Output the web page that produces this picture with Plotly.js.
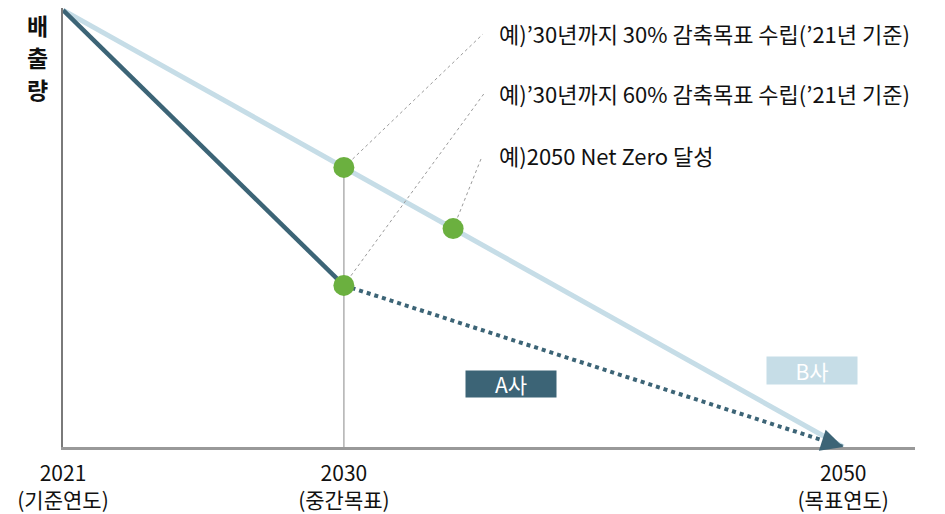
<!DOCTYPE html>
<html>
<head>
<meta charset="utf-8">
<script src="https://cdn.plot.ly/plotly-3.0.1.min.js"></script>
<style>html,body{margin:0;padding:0;background:#fff;}#chart{width:945px;height:514px;}</style>
</head>
<body>
<div id="chart"></div>
<script>
// Axis positions of the milestone years (schematic, non-linear spacing)
const yearLabels = ['2021<br>(기준연도)', '2030<br>(중간목표)', '2050<br>(목표연도)'];
const yearPos = [0, 9, 25];

// B사 (light) path: 2021 -> 2050, with an extra point read at x=12.5
const bX = [0, 9, 12.5, 25];
const bY = [100, 64, 50, 0];

// A사 (dark) path: solid 2021 -> 2030, dotted 2030 -> 2050
const aSolidX = [0, 9];
const aSolidY = [100, 37];
const aDotX = [9, 25];
const aDotY = [37, 0];

// Green milestone markers
const milestoneX = [9, 9, 12.5];
const milestoneY = [64, 37, 50];

// Callout labels (text) and their anchor positions
const calloutText = [
  '예)’30년까지 30% 감축목표 수립(’21년 기준)',
  '예)’30년까지 60% 감축목표 수립(’21년 기준)',
  '예)2050 Net Zero 달성'
];
const calloutLabelX = [13.9, 13.9, 13.9];
const calloutLabelY = [94.7, 81.0, 66.8];
const calloutLineEndX = [13.45, 13.48, 13.42];
const calloutLineEndY = [94.5, 80.8, 66.4];

const companyLabels = ['A사', 'B사'];
const yTitleChars = ['배', '출', '량'];

const DARK = '#3c6476';
const LIGHT = '#c6dde7';
const GREEN = '#6bb03f';
const FONT = '"Noto Sans CJK KR", "Noto Sans", sans-serif';

const traces = [];
// vertical reference line at 2030
traces.push({x: [yearPos[1], yearPos[1]], y: [0, bY[1]], mode: 'lines',
  line: {color: '#b0b0b0', width: 1.5}, hoverinfo: 'skip', showlegend: false});
// B line
traces.push({x: bX, y: bY, mode: 'lines', line: {color: LIGHT, width: 5},
  showlegend: false, cliponaxis: false});
// A solid
traces.push({x: aSolidX, y: aSolidY, mode: 'lines', line: {color: DARK, width: 4.5},
  showlegend: false, cliponaxis: false});
// A dotted
traces.push({x: aDotX, y: aDotY, mode: 'lines', line: {color: DARK, width: 4, dash: 'dot'},
  showlegend: false, cliponaxis: false});
// leader lines
for (let i = 0; i < calloutText.length; i++) {
  traces.push({x: [milestoneX[i], calloutLineEndX[i]], y: [milestoneY[i], calloutLineEndY[i]],
    mode: 'lines', line: {color: '#9a9a9a', width: 1, dash: 'dot'}, showlegend: false, hoverinfo: 'skip'});
}
// green markers
traces.push({x: milestoneX, y: milestoneY, mode: 'markers',
  marker: {color: GREEN, size: 21, line: {width: 0}}, showlegend: false, cliponaxis: false});

const annotations = [];
for (let i = 0; i < calloutText.length; i++) {
  annotations.push({x: calloutLabelX[i], y: calloutLabelY[i], xref: 'x', yref: 'y',
    text: calloutText[i], showarrow: false, xanchor: 'left', yanchor: 'middle',
    font: {family: FONT, size: 22, color: '#111'}});
}
// arrow head at the end of A's dotted path (direction taken from the data)
const nA = aDotX.length;
const tailX = aDotX[nA - 1] - 0.6;
const tailY = aDotY[nA - 2] + (aDotY[nA - 1] - aDotY[nA - 2]) * (tailX - aDotX[nA - 2]) / (aDotX[nA - 1] - aDotX[nA - 2]);
annotations.push({x: aDotX[nA - 1], y: aDotY[nA - 1], xref: 'x', yref: 'y',
  ax: tailX, ay: tailY, axref: 'x', ayref: 'y', text: '', showarrow: true,
  arrowhead: 2, arrowsize: 1.1, arrowwidth: 4, arrowcolor: DARK});

annotations.push({x: 0.526, y: 0.1435, xref: 'paper', yref: 'paper', text: companyLabels[0],
  xanchor: 'center', yanchor: 'middle',
  showarrow: false, bgcolor: DARK, width: 90, height: 26, borderpad: 0,
  font: {family: FONT, size: 21, color: '#ffffff'}});
annotations.push({x: 0.879, y: 0.174, xref: 'paper', yref: 'paper', text: companyLabels[1],
  xanchor: 'center', yanchor: 'middle',
  showarrow: false, bgcolor: LIGHT, width: 90, height: 27, borderpad: 0,
  font: {family: FONT, size: 21, color: '#ffffff'}});
// y axis title, stacked vertically
const yTitlePix = [25, 57, 89];
for (let i = 0; i < yTitleChars.length; i++) {
  annotations.push({x: (37 - 63) / 852, y: (447 - yTitlePix[i]) / 439, xref: 'paper', yref: 'paper',
    xanchor: 'center', yanchor: 'middle', text: '<b>' + yTitleChars[i] + '</b>', showarrow: false,
    font: {family: FONT, size: 23, color: '#111'}});
}

const layout = {
  width: 945, height: 514,
  margin: {l: 63, r: 30, t: 8, b: 67},
  paper_bgcolor: '#ffffff', plot_bgcolor: '#ffffff',
  xaxis: {range: [0, 27.3], tickvals: yearPos, ticktext: yearLabels, showgrid: false, zeroline: false,
    showline: true, linecolor: '#999999', linewidth: 2.5, ticks: '', ticklabelstandoff: 6,
    tickfont: {family: FONT, size: 21, color: '#111'}},
  yaxis: {range: [0, 100.5], showgrid: false, zeroline: false, showticklabels: false,
    showline: true, linecolor: '#7a7a7a', linewidth: 2, ticks: ''},
  annotations: annotations,
  showlegend: false
};

Plotly.newPlot('chart', traces, layout, {displayModeBar: false, staticPlot: true});
</script>
</body>
</html>
